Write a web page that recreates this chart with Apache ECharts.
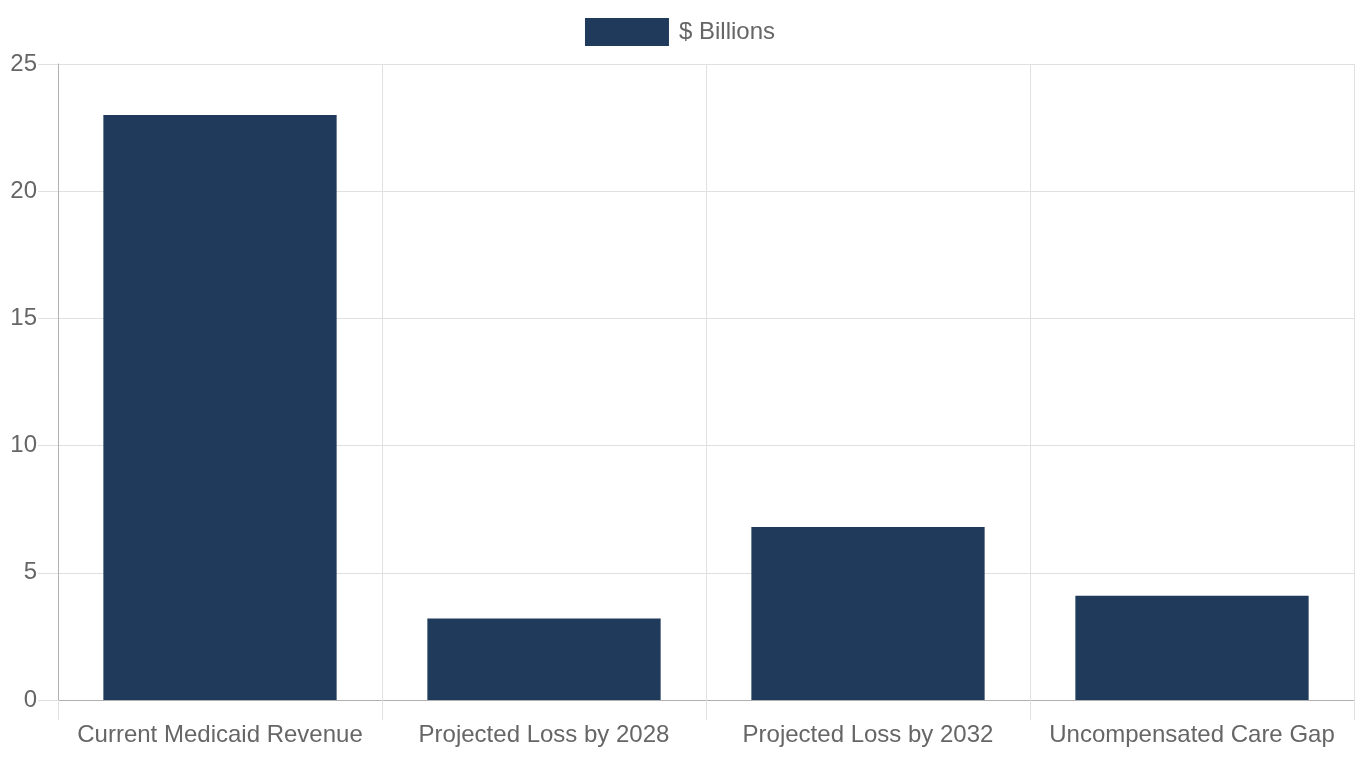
<!DOCTYPE html>
<html>
<head>
<meta charset="utf-8">
<script src="https://cdn.jsdelivr.net/npm/echarts@6/dist/echarts.min.js"></script>
<style>
  html, body { margin: 0; padding: 0; background: #fff; }
  #chart { width: 1360px; height: 760px; }
</style>
</head>
<body>
<div id="chart"></div>
<script>
// data
const categories = ['Current Medicaid Revenue', 'Projected Loss by 2028', 'Projected Loss by 2032', 'Uncompensated Care Gap'];
const billions = [23, 3.2, 6.8, 4.1];
const seriesName = '$ Billions';

const textColor = '#666';
const gridColor = '#e0e0e0';
const axisColor = '#b0b0b0';
const font = 'Liberation Sans, Arial, Helvetica, sans-serif';

const myChart = echarts.init(document.getElementById('chart'));
const option = {
    backgroundColor: '#fff',
    animation: false,
    textStyle: { fontFamily: font },
    legend: {
        top: 13,
        left: 'center',
        icon: 'rect',
        itemWidth: 84,
        itemHeight: 28,
        textStyle: { color: textColor, fontSize: 24, fontFamily: font, padding: [0, 0, 0, 5] },
        data: [seriesName]
    },
    grid: { left: 58, right: 6, top: 64, bottom: 60, containLabel: false },
    xAxis: {
        type: 'category',
        data: categories,
        axisLine: { show: true, lineStyle: { color: axisColor, width: 1 } },
        axisTick: { show: true, length: 20, lineStyle: { color: gridColor } },
        splitLine: { show: true, lineStyle: { color: gridColor } },
        axisLabel: { color: textColor, fontSize: 24, margin: 23, fontFamily: font, interval: 0 }
    },
    yAxis: {
        type: 'value',
        min: 0,
        max: 25,
        interval: 5,
        axisLine: { show: true, lineStyle: { color: axisColor, width: 1 } },
        axisTick: { show: true, length: 20, lineStyle: { color: gridColor } },
        splitLine: { show: true, lineStyle: { color: gridColor } },
        axisLabel: { color: textColor, fontSize: 24, margin: 21, fontFamily: font }
    },
    series: [
        {
            name: seriesName,
            type: 'bar',
            data: billions,
            barCategoryGap: '28%',
            itemStyle: { color: '#1f3a5a' }
        }
    ]
};
myChart.setOption(option);
</script>
</body>
</html>
